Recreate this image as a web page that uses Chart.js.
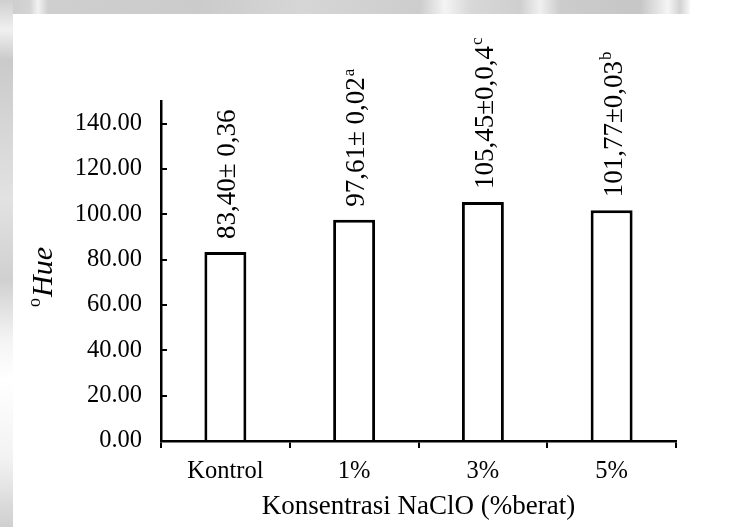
<!DOCTYPE html>
<html>
<head>
<meta charset="utf-8">
<script src="https://cdn.jsdelivr.net/npm/chart.js@4.4.1/dist/chart.umd.min.js"></script>
<style>
  html, body { margin: 0; padding: 0; background: #ffffff; }
  #wrap { position: relative; width: 731px; height: 527px; overflow: hidden; background: #ffffff; }
  .band-top {
    position: absolute; left: 0; top: 0; width: 690px; height: 14px;
    background: linear-gradient(90deg, #c9c9c9 0px, #d4d4d4 30px, #f2f2f2 38px, #cfcfcf 48px,
      #cbcbcb 200px, #d6d6d6 300px, #cdcdcd 420px, #f4f4f4 445px, #d8d8d8 470px,
      #cfcfcf 520px, #f0f0f0 540px, #cccccc 560px, #c6c6c6 640px, #f5f5f5 668px, #d2d2d2 680px, #f8f8f8 690px);
  }
  .band-left {
    position: absolute; left: 0; top: 0; width: 13px; height: 527px;
    background: linear-gradient(180deg, #cfcfcf 0px, #f0f0f0 30px, #cacaca 60px, #d8d8d8 140px,
      #e2e2e2 200px, #d0d0d0 280px, #f4f4f4 340px, #ffffff 380px, #f2f2f2 460px, #cfcfcf 527px);
  }
  canvas { position: absolute; left: 0; top: 0; }
</style>
</head>
<body>
<div id="wrap">
  <div class="band-top"></div>
  <div class="band-left"></div>
  <canvas id="c" width="731" height="527"></canvas>
</div>
<script>
// Hue angle of the samples for each NaClO concentration
const categories = ['Kontrol', '1%', '3%', '5%'];
const hueValues = [83.40, 97.61, 105.45, 101.77];
const valueLabels = ['83,40\u00B1 0,36', '97,61\u00B1 0,02', '105,45\u00B10,0,4', '101,77\u00B10,03'];
const significance = ['', 'a', 'c', 'b'];
const yTicks = [0, 20, 40, 60, 80, 100, 120, 140];
const yMax = 150;

const SERIF = "'Liberation Serif', 'Times New Roman', serif";

// Rotated value labels above each bar, with a superscript letter
const barLabels = {
  id: 'barLabels',
  afterDatasetsDraw(chart) {
    const ctx = chart.ctx;
    const meta = chart.getDatasetMeta(0);
    meta.data.forEach((bar, i) => {
      ctx.save();
      ctx.translate(bar.x + 3, bar.y - 13);
      ctx.rotate(-Math.PI / 2);
      ctx.fillStyle = '#000';
      ctx.textAlign = 'left';
      ctx.textBaseline = 'middle';
      ctx.font = '27px ' + SERIF;
      ctx.fillText(valueLabels[i], 0, 0);
      const w = ctx.measureText(valueLabels[i]).width;
      if (significance[i]) {
        ctx.font = '17px ' + SERIF;
        ctx.fillText(significance[i], w + 1, -8);
      }
      ctx.restore();
    });
  }
};

// Y axis title: superscript "o" followed by italic "Hue"
const yTitle = {
  id: 'yTitle',
  afterDraw(chart) {
    const ctx = chart.ctx;
    const y = chart.scales.y;
    const cy = (y.top + y.bottom) / 2 + 6;
    ctx.save();
    ctx.translate(44, cy);
    ctx.rotate(-Math.PI / 2);
    ctx.fillStyle = '#000';
    ctx.textBaseline = 'middle';
    ctx.font = '18px ' + SERIF;
    const wo = ctx.measureText('o').width;
    ctx.font = 'italic 30px ' + SERIF;
    const wh = ctx.measureText('Hue').width;
    const start = -(wo + 1 + wh) / 2;
    ctx.textAlign = 'left';
    ctx.font = '18px ' + SERIF;
    ctx.fillText('o', start, -9);
    ctx.font = 'italic 30px ' + SERIF;
    ctx.fillText('Hue', start + wo + 1, 0);
    ctx.restore();
  }
};

new Chart(document.getElementById('c'), {
  type: 'bar',
  data: {
    labels: categories,
    datasets: [{
      data: hueValues,
      backgroundColor: '#ffffff',
      borderColor: '#000000',
      borderWidth: 3,
      borderSkipped: 'start',
      barPercentage: 0.326,
      categoryPercentage: 1.0
    }]
  },
  options: {
    responsive: false,
    devicePixelRatio: 1,
    animation: false,
    layout: { padding: { left: 0, top: 101, right: 55, bottom: 0 } },
    plugins: {
      legend: { display: false },
      tooltip: { enabled: false }
    },
    scales: {
      x: {
        offset: true,
        grid: {
          offset: true,
          drawOnChartArea: false,
          drawTicks: true,
          tickLength: 7,
          color: '#000',
          lineWidth: 2
        },
        border: { display: true, color: '#000', width: 2.5 },
        ticks: {
          color: '#000',
          padding: 9,
          font: { family: SERIF, size: 24.5 },
          maxRotation: 0
        },
        title: {
          display: true,
          text: 'Konsentrasi NaClO (%berat)',
          color: '#000',
          font: { family: SERIF, size: 27 },
          padding: { top: 0, bottom: 4 }
        },
        afterFit(s) { s.height = 86; }
      },
      y: {
        min: 0,
        max: yMax,
        grid: {
          drawOnChartArea: false,
          drawTicks: true,
          tickLength: -6,
          color: '#000',
          lineWidth: 2
        },
        border: { display: true, color: '#000', width: 2.5 },
        ticks: {
          color: '#000',
          padding: 25,
          font: { family: SERIF, size: 24.5 },
          callback: (v) => Number(v).toFixed(2)
        },
        afterBuildTicks(s) { s.ticks = yTicks.map(v => ({ value: v })); },
        afterFit(s) { s.width = 161; }
      }
    }
  },
  plugins: [barLabels, yTitle]
});
</script>
</body>
</html>
